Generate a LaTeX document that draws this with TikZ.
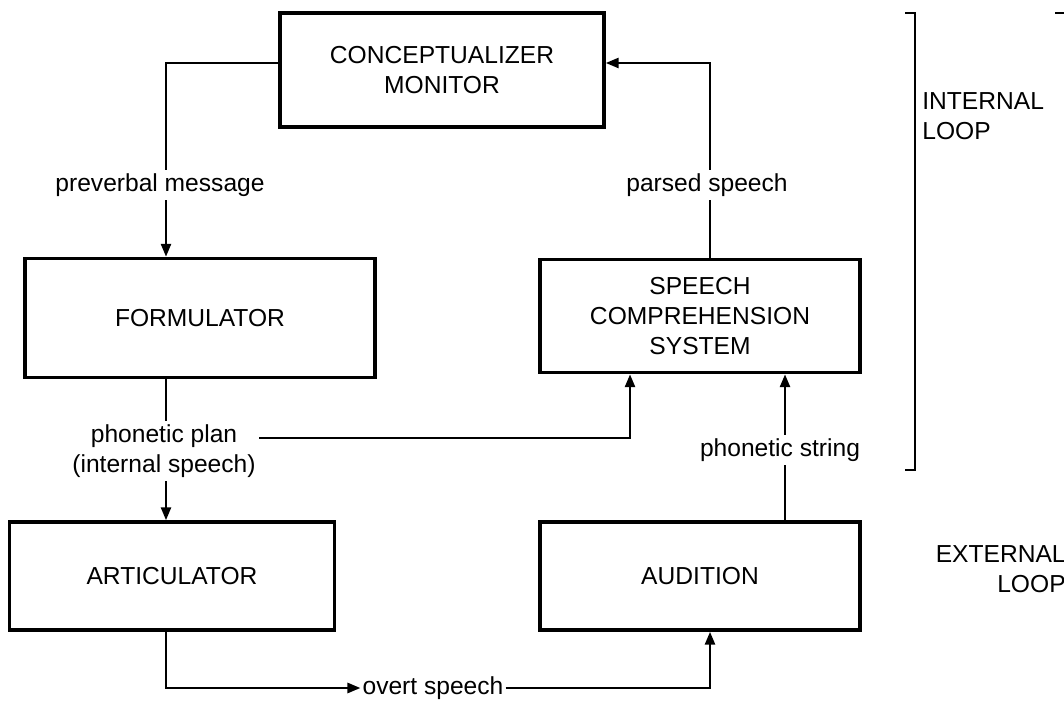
\documentclass[tikz,border=0pt]{standalone}
\usepackage{fontspec}
\setmainfont{Liberation Sans}
\usetikzlibrary{arrows.meta}

\begin{document}
\begin{tikzpicture}[x=0.02cm,y=-0.02cm,>={Triangle[length=2.6mm,width=2mm]},
  every node/.style={font=\fontsize{14}{17}\selectfont},
  box/.style={draw,line width=2pt,align=center,inner sep=0pt},
  lbl/.style={align=center,inner sep=2pt},
  conn/.style={line width=1.5pt}]
  \useasboundingbox (0,0) rectangle (1064,702);
  % boxes
  \node[box,minimum width=6.48cm,minimum height=2.28cm] (conc) at (442,70) {CONCEPTUALIZER\\MONITOR};
  \node[box,minimum width=7.0cm,minimum height=2.38cm] (form) at (200,318) {FORMULATOR};
  \node[box,minimum width=6.4cm,minimum height=2.26cm] (scs) at (700,316) {SPEECH\\COMPREHENSION\\SYSTEM};
  \node[box,minimum width=6.5cm,minimum height=2.16cm] (art) at (172,576) {ARTICULATOR};
  \node[box,minimum width=6.4cm,minimum height=2.16cm] (aud) at (700,576) {AUDITION};
  % labels on the connectors
  \node[lbl] (pvmsg) at (160,185) {preverbal message};
  \node[lbl] (parsed) at (707,185) {parsed speech};
  \node[lbl] (ppl) at (164,451) {phonetic plan\\(internal speech)};
  \node[lbl] (pstr) at (780,450) {phonetic string};
  \node[lbl,inner xsep=1pt] (overt) at (433,688) {overt speech};
  % corners
  \coordinate (pvx) at (166,63);
  \coordinate (psx) at (710,63);
  \coordinate (ppx) at (630,438);
  \coordinate (psy) at (785,450);
  \coordinate (ovl) at (166,688);
  \coordinate (ovr) at (710,688);
  % connectors
  \draw[conn] (conc.west |- pvx) -- (pvx) -- (pvx |- pvmsg.north);
  \draw[conn,->] (pvx |- pvmsg.south) -- (pvx |- form.north);
  \draw[conn] (psx |- scs.north) -- (psx |- parsed.south);
  \draw[conn,->] (psx |- parsed.north) -- (psx) -- (conc.east |- psx);
  \draw[conn] (pvx |- form.south) -- (pvx |- ppl.north);
  \draw[conn,->] (pvx |- ppl.south) -- (pvx |- art.north);
  \draw[conn,->] (ppl.east |- ppx) -- (ppx) -- (ppx |- scs.south);
  \draw[conn] (psy |- aud.north) -- (psy |- pstr.south);
  \draw[conn,->] (psy |- pstr.north) -- (psy |- scs.south);
  \draw[conn,->] (ovl |- art.south) -- (ovl) -- (overt.west);
  \draw[conn,->] (overt.east) -- (ovr) -- (ovr |- aud.south);
  % loop brackets
  \coordinate (brtop) at (915,13);
  \coordinate (brbot) at (915,470);
  \draw[line width=1.6pt] ([xshift=-0.2cm]brtop) -- (brtop) -- (brbot) -- ([xshift=-0.2cm]brbot);
  \draw[line width=1.6pt] (1055,13) -- (1064,13);
  \node[align=left,anchor=north west,inner sep=0pt] (intl) at (922,92) {INTERNAL\\LOOP};
  \node[align=right,anchor=north east,inner sep=0pt] (extl) at (1066,545) {EXTERNAL\\LOOP};
\end{tikzpicture}
\end{document}
